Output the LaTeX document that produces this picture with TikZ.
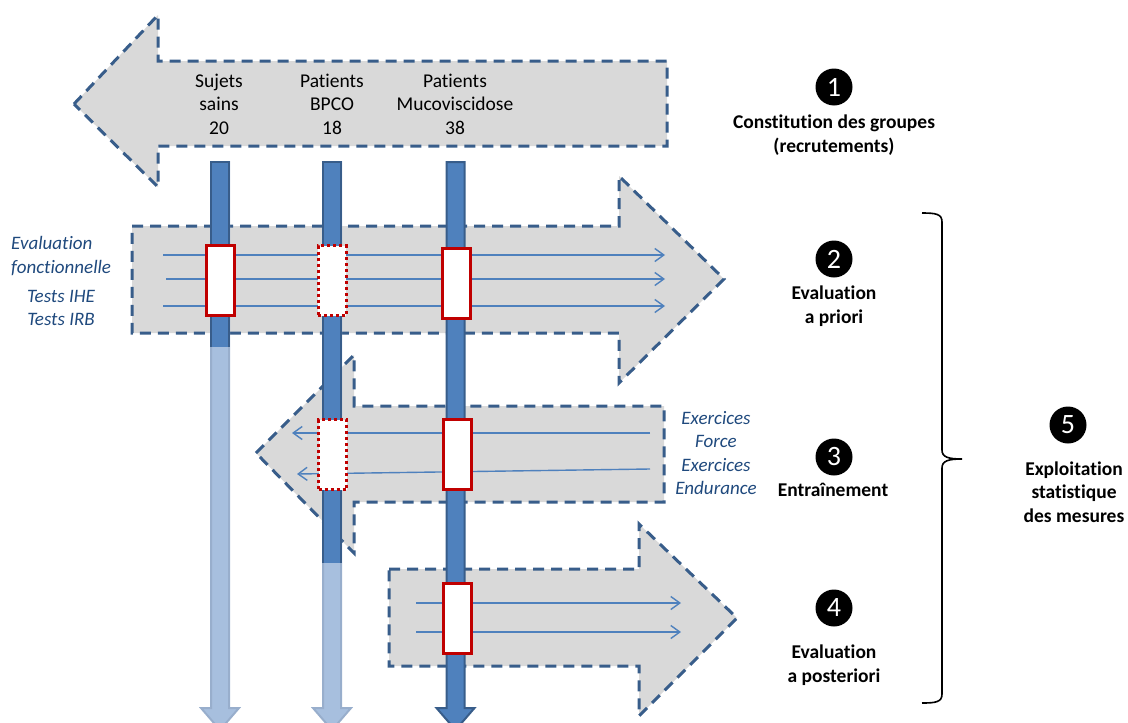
\documentclass[tikz,border=0pt]{standalone}
\usepackage{fontspec}
\setmainfont{Carlito}[Ligatures=NoCommon]
\usetikzlibrary{arrows.meta}
\definecolor{grayfill}{RGB}{217,217,217}
\definecolor{dashblue}{RGB}{56,93,138}
\definecolor{barblue}{RGB}{79,129,189}
\definecolor{barborder}{RGB}{56,93,138}
\definecolor{lightbar}{RGB}{167,191,222}
\definecolor{lightborder}{RGB}{152,174,204}
\definecolor{boxred}{RGB}{192,0,0}
\definecolor{textblue}{RGB}{31,73,125}
\begin{document}
\begin{tikzpicture}[x=1pt,y=-1pt,
  bigarrow/.style={fill=grayfill, draw=dashblue, line width=3pt, dash pattern=on 11pt off 7pt, line join=miter},
  flowline/.style={draw=barblue, line width=1.4pt, -{Straight Barb[length=9pt,width=13pt,line width=1.4pt]}},
  lbl/.style={font=\fontsize{19.5}{23.5}\selectfont, align=center, inner sep=0pt},
  blbl/.style={font=\fontsize{19.5}{23.5}\selectfont\bfseries, align=center, inner sep=0pt},
  ilbl/.style={font=\fontsize{19}{23.5}\selectfont\itshape, text=textblue, inner sep=0pt},
  numc/.style={circle, fill=black, minimum size=37pt, inner sep=0pt, text=white, font=\fontsize{28}{28}\selectfont},
  redbox/.style={draw=boxred, fill=white, line width=3pt, minimum width=28pt, minimum height=70pt, inner sep=0pt},
  dotbox/.style={redbox, dash pattern=on 3pt off 3pt},
  darkbar/.style={fill=barblue, draw=barborder, line width=2pt},
  lightbarst/.style={fill=lightbar, draw=lightborder, line width=2pt},
]
\useasboundingbox (0,0) rectangle (1128,723);
\clip (0,0) rectangle (1128,723);

% ---- big gray arrows ----
\draw[bigarrow] (74,104) -- (158,15) -- (158,61) -- (667,61) -- (667,146) -- (158,146) -- (158,187) -- cycle;
\draw[bigarrow] (132,226) -- (619,226) -- (619,176) -- (724,279) -- (619,383) -- (619,333) -- (132,333) -- cycle;
\draw[bigarrow] (256,453) -- (354,355) -- (354,406) -- (664,406) -- (664,502) -- (354,502) -- (354,553) -- cycle;
\draw[bigarrow] (389,569) -- (639,569) -- (639,524) -- (737,618) -- (639,716) -- (639,666) -- (389,666) -- cycle;

% ---- vertical bars ----
% bar 1 (Sujets sains)
\draw[lightbarst] (211,162) -- (229,162) -- (229,708) -- (239,708) -- (220,730) -- (201,708) -- (211,708) -- cycle;
\fill[barblue] (211,162) rectangle (229,347);
\draw[barborder, line width=2pt] (211,347) -- (211,162) -- (229,162) -- (229,347);
% bar 2 (BPCO)
\draw[lightbarst] (323,162) -- (341,162) -- (341,708) -- (351,708) -- (332,730) -- (313,708) -- (323,708) -- cycle;
\fill[barblue] (323,162) rectangle (341,563);
\draw[barborder, line width=2pt] (323,563) -- (323,162) -- (341,162) -- (341,563);
% bar 3 (Mucoviscidose)
\draw[darkbar] (446.5,162) -- (464.5,162) -- (464.5,708) -- (474.5,708) -- (455.5,730) -- (436.5,708) -- (446.5,708) -- cycle;

% ---- thin flow lines ----
\coordinate (a2s1) at (163,255); \coordinate (a2e1) at (665,255);
\coordinate (a2s2) at (166,279); \coordinate (a2e2) at (665,279);
\coordinate (a2s3) at (163,306); \coordinate (a2e3) at (665,306);
\draw[flowline] (a2s1) -- (a2e1);
\draw[flowline] (a2s2) -- (a2e2);
\draw[flowline] (a2s3) -- (a2e3);
\coordinate (a3s1) at (650,433); \coordinate (a3e1) at (292,433);
\coordinate (a3s2) at (650,469); \coordinate (a3e2) at (297,474);
\draw[flowline] (a3s1) -- (a3e1);
\draw[flowline] (a3s2) -- (a3e2);
\coordinate (a4s1) at (416,603); \coordinate (a4e1) at (681,603);
\coordinate (a4s2) at (416,632); \coordinate (a4e2) at (681,632);
\draw[flowline] (a4s1) -- (a4e1);
\draw[flowline] (a4s2) -- (a4e2);

% ---- red boxes ----
\node[redbox] (b21) at (220,280) {};
\node[dotbox] (b22) at (332,280.5) {};
\node[redbox] (b23) at (456.5,283.5) {};
\node[dotbox] (b32) at (332.5,454.5) {};
\node[redbox] (b33) at (457,454.5) {};
\node[redbox] (b43) at (457,618.5) {};

% ---- group labels ----
\node[lbl] (g1) at (219,104) {Sujets\\sains\\20};
\node[lbl] (g2) at (332,104) {Patients\\BPCO\\18};
\node[lbl] (g3) at (455,104) {Patients\\Mucoviscidose\\38};

% ---- italic labels ----
\node[ilbl, align=left, anchor=west] (evf) at (11,256) {Evaluation\\fonctionnelle};
\node[ilbl, align=center] (tests) at (61,308) {Tests IHE\\Tests IRB};
\node[ilbl, align=center] (exer) at (716,453) {Exercices\\Force\\Exercices\\Endurance};

% ---- steps ----
\node[numc] (n1) at (834,87) {1};
\node[blbl] (s1) at (834,135) {Constitution des groupes\\(recrutements)};
\node[numc] (n2) at (834,259) {2};
\node[blbl] (s2) at (834,306) {Evaluation\\a priori};
\node[numc] (n3) at (834,457) {3};
\node[blbl] (s3) at (833,490) {Entraînement};
\node[numc] (n4) at (834,608) {4};
\node[blbl] (s4) at (834,665) {Evaluation\\a posteriori};
\node[numc] (n5) at (1068,425) {5};
\node[blbl] (s5) at (1074,492) {Exploitation\\statistique\\des mesures};

% ---- brace ----
\draw[line width=1.6pt] (922,213) .. controls (936,213) and (942,214) .. (942,222)
  -- (942,450) .. controls (942,457) and (948,459) .. (962,459)
  .. controls (948,459) and (942,461) .. (942,468)
  -- (942,694) .. controls (942,702) and (936,703) .. (922,703);
\end{tikzpicture}
\end{document}
